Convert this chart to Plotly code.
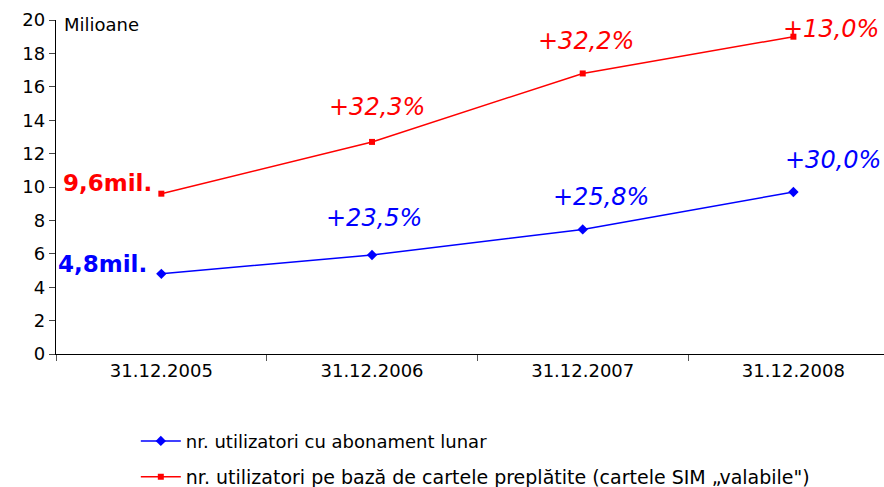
import plotly.graph_objects as go

categories = ["31.12.2005", "31.12.2006", "31.12.2007", "31.12.2008"]
abonament = [4.8, 5.93, 7.46, 9.7]
cartele = [9.6, 12.7, 16.8, 19.0]
growth_abonament = ["", "+23,5%", "+25,8%", "+30,0%"]
growth_cartele = ["", "+32,3%", "+32,2%", "+13,0%"]
y_ticks = [0, 2, 4, 6, 8, 10, 12, 14, 16, 18, 20]

name_blue = "nr. utilizatori cu abonament lunar"
name_red = "nr. utilizatori pe bază de cartele preplătite (cartele SIM „valabile\")"

FONT = "'DejaVu Sans', sans-serif"
BLUE = "#0000FF"
RED = "#FF0000"

fig = go.Figure()
fig.add_trace(go.Scatter(
    x=categories, y=abonament, mode="lines+markers", name=name_blue,
    line=dict(color=BLUE, width=1.5), marker=dict(symbol="diamond", size=8, color=BLUE),
    legend="legend"))
fig.add_trace(go.Scatter(
    x=categories, y=cartele, mode="lines+markers", name=name_red,
    line=dict(color=RED, width=1.5), marker=dict(symbol="square", size=6, color=RED),
    legend="legend2"))

# growth labels
blue_offsets = [None, (2, 37), (18, 32), (40, 32)]
red_offsets = [None, (5, 35), (3, 32), (38, 8)]
for i in range(1, 4):
    fig.add_annotation(x=categories[i], y=abonament[i], text=growth_abonament[i],
                       showarrow=False, xshift=blue_offsets[i][0], yshift=blue_offsets[i][1],
                       font=dict(family=FONT, size=24, color=BLUE, style="italic"))
    fig.add_annotation(x=categories[i], y=cartele[i], text=growth_cartele[i],
                       showarrow=False, xshift=red_offsets[i][0], yshift=red_offsets[i][1],
                       font=dict(family=FONT, size=24, color=RED, style="italic"))

fig.add_annotation(x=categories[0], y=cartele[0], text="<b>9,6mil.</b>", showarrow=False,
                   xanchor="right", xshift=-7, yshift=11,
                   font=dict(family=FONT, size=23, color=RED))
fig.add_annotation(x=categories[0], y=abonament[0], text="<b>4,8mil.</b>", showarrow=False,
                   xanchor="right", xshift=-12, yshift=10,
                   font=dict(family=FONT, size=23, color=BLUE))
fig.add_annotation(xref="paper", yref="paper", x=0.007, y=1.0, text="Milioane",
                   showarrow=False, xanchor="left", yanchor="middle", yshift=-4,
                   font=dict(family=FONT, size=18, color="black"))

fig.update_layout(
    width=884, height=487,
    margin=dict(l=56, r=0, t=20, b=133, autoexpand=False),
    paper_bgcolor="white", plot_bgcolor="white",
    font=dict(family=FONT, size=18, color="black"),
    showlegend=True,
    legend=dict(x=0.0964, y=0.132, xref="paper", yref="container", xanchor="left", yanchor="top",
                itemwidth=40, font=dict(family=FONT, size=18), bgcolor="rgba(0,0,0,0)"),
    legend2=dict(x=0.0964, y=0.060, xref="paper", yref="container", xanchor="left", yanchor="top",
                 itemwidth=40, font=dict(family=FONT, size=19), bgcolor="rgba(0,0,0,0)"),
    xaxis=dict(type="category", range=[-0.5, 3.43], showline=True, linecolor="black",
               linewidth=1.3, ticks="outside", tickson="boundaries", ticklen=6,
               tickcolor="#555", showgrid=False, zeroline=False,
               tickfont=dict(family=FONT, size=18), fixedrange=True),
    yaxis=dict(range=[0, 20], tickvals=y_ticks, showline=True, linecolor="black",
               linewidth=1.3, ticks="outside", ticklen=6, showgrid=False, zeroline=False,
               tickfont=dict(family=FONT, size=18), fixedrange=True),
)

fig.write_html(
    "out.html",
    config={"displayModeBar": False},
    post_script="document.body.style.margin='0';document.body.style.overflow='hidden';",
)
